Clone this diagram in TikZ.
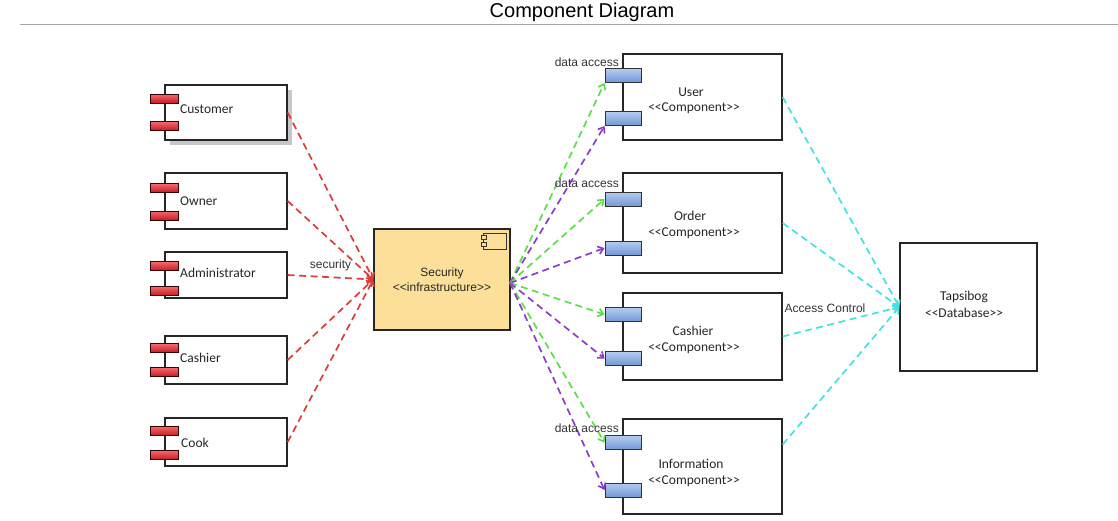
\documentclass[tikz,border=0pt]{standalone}
\usepackage{fontspec}
\setmainfont{Liberation Sans}
\newfontfamily\cfont{Carlito}
\usetikzlibrary{arrows.meta}
\definecolor{redline}{HTML}{DE3B3B}
\definecolor{greenline}{HTML}{5EDD4C}
\definecolor{purpleline}{HTML}{8B3CCB}
\definecolor{cyanline}{HTML}{45E0E0}
\definecolor{secfill}{HTML}{FCE09A}
\definecolor{portbtop}{HTML}{B5CCF0}
\definecolor{portbbot}{HTML}{7497D6}
\definecolor{portrtop}{HTML}{F46A6E}
\definecolor{portrbot}{HTML}{C81A24}
\begin{document}
\begin{tikzpicture}[x=1pt,y=-1pt,
  cbox/.style={draw=black!85, line width=1.3pt, fill=white, inner sep=0pt},
  rport/.style={draw=black!80!red, line width=1pt, top color=portrtop, bottom color=portrbot, minimum width=28pt, minimum height=9pt, inner sep=0pt},
  bport/.style={draw=black!80, line width=1pt, top color=portbtop, bottom color=portbbot, minimum width=36pt, minimum height=14pt, inner sep=0pt},
  clabel/.style={font=\cfont\fontsize{13.5}{15}\selectfont, inner sep=0pt, text=black!85},
  alabel/.style={font=\fontsize{12}{14}\selectfont, inner sep=0pt, text=black!80},
  conn/.style={line width=1.7pt, dash pattern=on 7pt off 4.5pt, -{Straight Barb[length=5pt,width=8pt]}},
  redc/.style={conn, draw=redline},
  greenc/.style={conn, draw=greenline},
  purplec/.style={conn, draw=purpleline},
  cyanc/.style={conn, draw=cyanline}
]
\useasboundingbox (0,0) rectangle (1118,520);
% title
\node[font=\fontsize{20}{24}\selectfont, inner sep=0pt] (title) at (582,12) {Component Diagram};
\coordinate (tl) at (20,24);
\coordinate (tr) at (1118,24);
\draw[black!35, line width=1pt] (tl) -- (tr);

% left components
\fill[black!22] (170,90) rectangle (292,145);
\node[cbox, minimum width=122pt, minimum height=55pt] (cust) at (226,112.5) {};
\node[rport] (cust-a) at (164,98.5) {};
\node[rport] (cust-b) at (164,126) {};
\node[clabel, anchor=west] (cust-t) at (180,109) {Customer};

\node[cbox, minimum width=122pt, minimum height=56pt] (own) at (226,201) {};
\node[rport] (own-a) at (164,188) {};
\node[rport] (own-b) at (164,215.5) {};
\node[clabel, anchor=west] (own-t) at (180,201) {Owner};

\node[cbox, minimum width=122pt, minimum height=46pt] (adm) at (226,275) {};
\node[rport] (adm-a) at (164,266) {};
\node[rport] (adm-b) at (164,291) {};
\node[clabel, anchor=west] (adm-t) at (180,273) {Administrator};

\node[cbox, minimum width=122pt, minimum height=48pt] (lcash) at (226,360) {};
\node[rport] (lcash-a) at (164,348) {};
\node[rport] (lcash-b) at (164,372) {};
\node[clabel, anchor=west] (lcash-t) at (180,358) {Cashier};

\node[cbox, minimum width=122pt, minimum height=48pt] (cook) at (226,442) {};
\node[rport] (cook-a) at (164,431) {};
\node[rport] (cook-b) at (164,455) {};
\node[clabel, anchor=west] (cook-t) at (181,443) {Cook};

% security
\node[cbox, fill=secfill, minimum width=136pt, minimum height=101pt] (sec) at (442,279.5) {};
\node[draw=black!80, line width=0.9pt, minimum width=23pt, minimum height=16pt, inner sep=0pt] (sec-i) at (494.5,241) {};
\node[draw=black!80, fill=secfill, line width=0.8pt, minimum width=5pt, minimum height=4pt, inner sep=0pt] (sec-i1) at (483.5,237.5) {};
\node[draw=black!80, fill=secfill, line width=0.8pt, minimum width=5pt, minimum height=4pt, inner sep=0pt] (sec-i2) at (483.5,244.5) {};
\node[alabel, text=black!85] (sec-t1) at (442,273) {Security};
\node[alabel, text=black!85] (sec-t2) at (442,287) {<{}<infrastructure>{}>};

% right components
\node[cbox, minimum width=159pt, minimum height=86pt] (user) at (702.5,97) {};
\node[bport] (user-a) at (623,75.5) {};
\node[bport] (user-b) at (623,118.5) {};
\node[clabel] (user-t1) at (691,92) {User};
\node[clabel] (user-t2) at (694,108) {<{}<Component>{}>};

\node[cbox, minimum width=159pt, minimum height=100pt] (order) at (702.5,223) {};
\node[bport] (order-a) at (623,199) {};
\node[bport] (order-b) at (623,248) {};
\node[clabel] (order-t1) at (690,216) {Order};
\node[clabel] (order-t2) at (694,233) {<{}<Component>{}>};

\node[cbox, minimum width=159pt, minimum height=87pt] (rcash) at (702.5,336.5) {};
\node[bport] (rcash-a) at (623,314.5) {};
\node[bport] (rcash-b) at (623,358.5) {};
\node[clabel] (rcash-t1) at (693,331) {Cashier};
\node[clabel] (rcash-t2) at (694,348) {<{}<Component>{}>};

\node[cbox, minimum width=159pt, minimum height=95pt] (info) at (702.5,466.5) {};
\node[bport] (info-a) at (623,442.5) {};
\node[bport] (info-b) at (623,490) {};
\node[clabel] (info-t1) at (691,464) {Information};
\node[clabel] (info-t2) at (694,481) {<{}<Component>{}>};

% database
\node[cbox, minimum width=137pt, minimum height=128pt] (db) at (968.5,307) {};
\node[clabel] (db-t1) at (964,297) {Tapsibog};
\node[clabel] (db-t2) at (964,313) {<{}<Database>{}>};

% red connectors
\draw[redc] (cust.east) -- (sec.west);
\draw[redc] (own.east) -- (sec.west);
\draw[redc] (adm.east) -- node[alabel, above=5pt] (seclbl) {security} (sec.west);
\draw[redc] (lcash.east) -- (sec.west);
\draw[redc] (cook.east) -- (sec.west);

% green / purple connectors
\coordinate (se) at (510,283);
\draw[greenc] (se) -- (user-a.south west);
\draw[purplec] (se) -- (user-b.south west);
\draw[greenc] (se) -- (order-a.west);
\draw[purplec] (se) -- (order-b.west);
\draw[greenc] (se) -- (rcash-a.west);
\draw[purplec] (se) -- (rcash-b.west);
\draw[greenc] (se) -- (info-a.west);
\draw[purplec] (se) -- (info-b.west);

\node[alabel, anchor=east] (da1) at (619,62) {data access};
\node[alabel, anchor=east] (da2) at (619,183) {data access};
\node[alabel, anchor=east] (da3) at (619,428) {data access};

% cyan connectors
\draw[cyanc] (user.east) -- (db.west);
\draw[cyanc] (order.east) -- (db.west);
\draw[cyanc] (rcash.east) -- (db.west);
\draw[cyanc] ([yshift=22pt]info.east) -- (db.west);
\node[alabel] (acl) at (825,308) {Access Control};
\end{tikzpicture}
\end{document}
